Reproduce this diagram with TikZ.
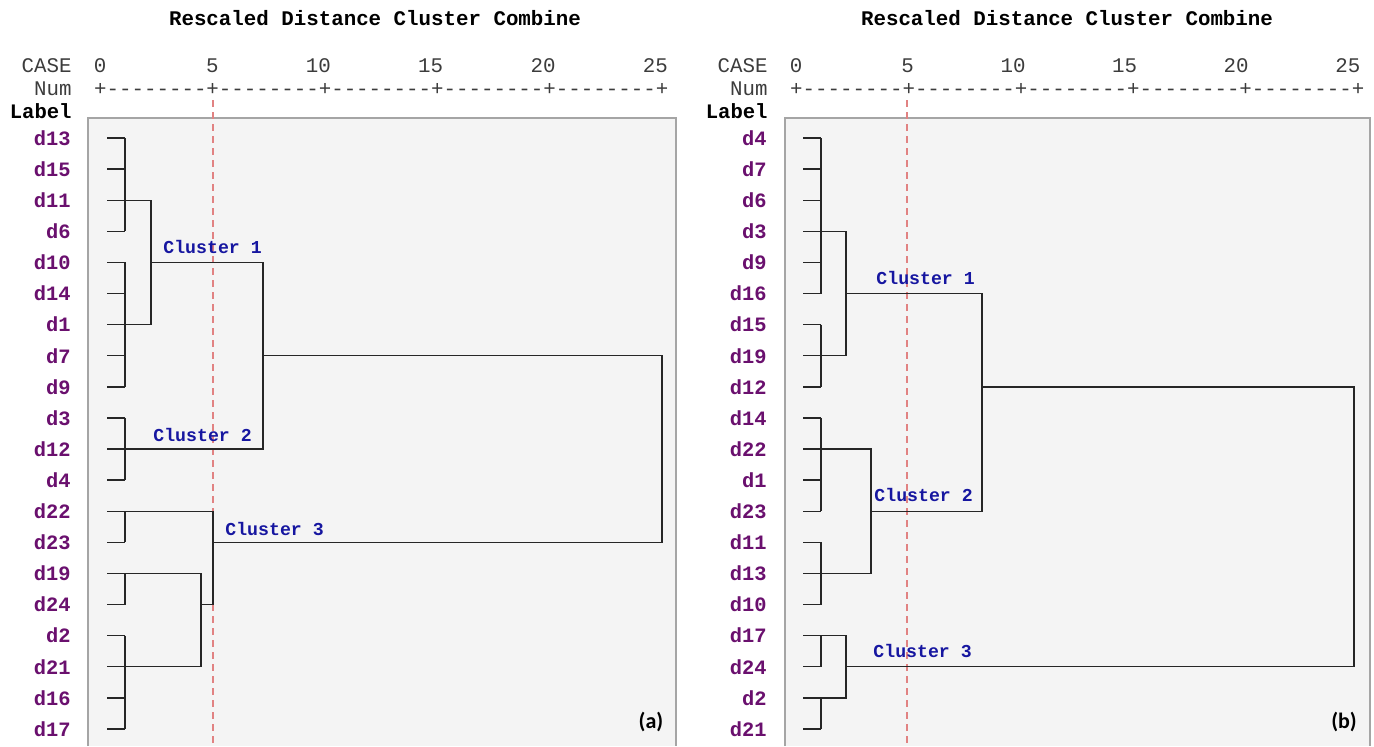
\documentclass[tikz,border=0pt]{standalone}
\usepackage{fontspec}
\newfontfamily\monof[Ligatures=TeXOff]{Liberation Mono}
\newfontfamily\panelf{Carlito}
\definecolor{leafc}{RGB}{106,16,110}
\definecolor{clusc}{RGB}{22,22,160}
\definecolor{axisc}{RGB}{60,60,60}
\definecolor{boxfill}{RGB}{244,244,244}
\definecolor{boxline}{RGB}{165,165,165}
\definecolor{cutc}{RGB}{225,130,130}
\newcommand\R[1]{(138+31.1*#1)}
\tikzset{
  title/.style={font=\monof\bfseries\fontsize{10.4}{12}\selectfont, inner sep=0pt},
  axis/.style={font=\monof\fontsize{10.4}{12}\selectfont, text=axisc, inner sep=0pt},
  hdr/.style={font=\monof\bfseries\fontsize{10.3}{12}\selectfont, inner sep=0pt},
  leaf/.style={font=\monof\bfseries\fontsize{10.2}{12}\selectfont, text=leafc, inner sep=0pt, anchor=east},
  clus/.style={font=\monof\bfseries\fontsize{9.1}{11}\selectfont, text=clusc, inner sep=0pt, anchor=west},
  tag/.style={font=\panelf\bfseries\fontsize{11}{13}\selectfont, inner sep=0pt},
  tree/.style={draw=black!85, line width=0.7pt},
  cut/.style={draw=cutc, line width=0.55pt, dash pattern=on 3.5pt off 2.5pt},
  panel/.style={fill=boxfill},
  panelrim/.style={draw=boxline, line width=0.6pt}
}
\newcommand\header[5]{%
  \node[title] (#1title) at (#5,18) {Rescaled Distance Cluster Combine};
  \node[axis, anchor=east] (#1case) at (#4,66) {CASE};
  \node[axis, anchor=east] (#1num) at (#4,89) {Num};
  \node[hdr, anchor=east] (#1lab) at (#4,111) {Label};
  \foreach \c/\t [count=\k] in {0/0,9/5,17.5/10,26.5/15,35.5/20,44.5/25}
    \node[axis] (#1n\k) at ({#2+#3*\c},66) {\t};
  \node[axis, anchor=west] (#1rule) at ({#2-#3/2},89) {+--------+--------+--------+--------+--------+};
}
\begin{document}
\begin{tikzpicture}[x=0.5pt,y=-0.5pt]
\useasboundingbox (0,0) rectangle (1374,746);
% ---------------- panel (a)
\fill[panel] (88,118) rectangle (676,746);
\draw[panelrim] (88,746) -- (88,118) -- (676,118) -- (676,746);
\header{a}{100}{12.48}{72}{375}
\draw[cut] (213,100) -- (213,746);
\foreach \n [count=\i from 0] in {d13,d15,d11,d6,d10,d14,d1,d7,d9,d3,d12,d4,d22,d23,d19,d24,d2,d21,d16,d17}
  \node[leaf] (a-\n) at (71,{\R{\i}}) {\n};
\foreach \i in {0,...,19}
  \draw[tree] (107,{\R{\i}}) -- (125,{\R{\i}});
\foreach \p/\q in {0/3,4/8,9/11,12/13,14/15,16/19}
  \draw[tree] (125,{\R{\p}}) -- (125,{\R{\q}});
\draw[tree] (125,{\R{2}}) -- (151,{\R{2}}) -- (151,{\R{6}}) -- (125,{\R{6}});
\draw[tree] (151,{\R{4}}) -- (263,{\R{4}}) -- (263,{\R{10}}) -- (125,{\R{10}});
\draw[tree] (263,{\R{7}}) -- (662,{\R{7}}) -- (662,{\R{13}}) -- (213,{\R{13}});
\draw[tree] (125,{\R{12}}) -- (213,{\R{12}}) -- (213,{\R{15}}) -- (201,{\R{15}});
\draw[tree] (125,{\R{14}}) -- (201,{\R{14}}) -- (201,{\R{17}}) -- (125,{\R{17}});
\node[clus] (ac1) at (163,247) {Cluster 1};
\node[clus] (ac2) at (153,435) {Cluster 2};
\node[clus] (ac3) at (225,529) {Cluster 3};
\node[tag] (atag) at (651,722) {(a)};
% ---------------- panel (b)
\fill[panel] (785,118) rectangle (1370,746);
\draw[panelrim] (785,746) -- (785,118) -- (1370,118) -- (1370,746);
\header{b}{796}{12.4}{768}{1067}
\draw[cut] (907,100) -- (907,746);
\foreach \n [count=\i from 0] in {d4,d7,d6,d3,d9,d16,d15,d19,d12,d14,d22,d1,d23,d11,d13,d10,d17,d24,d2,d21}
  \node[leaf] (b-\n) at (767,{\R{\i}}) {\n};
\foreach \i in {0,...,19}
  \draw[tree] (803,{\R{\i}}) -- (821,{\R{\i}});
\foreach \p/\q in {0/5,6/8,9/12,13/15,16/17,18/19}
  \draw[tree] (821,{\R{\p}}) -- (821,{\R{\q}});
\draw[tree] (821,{\R{3}}) -- (846,{\R{3}}) -- (846,{\R{7}}) -- (821,{\R{7}});
\draw[tree] (846,{\R{5}}) -- (982,{\R{5}}) -- (982,{\R{12}}) -- (871,{\R{12}});
\draw[tree] (821,{\R{10}}) -- (871,{\R{10}}) -- (871,{\R{14}}) -- (821,{\R{14}});
\draw[tree] (982,{\R{8}}) -- (1354,{\R{8}}) -- (1354,{\R{17}}) -- (846,{\R{17}});
\draw[tree] (821,{\R{16}}) -- (846,{\R{16}}) -- (846,{\R{18}}) -- (821,{\R{18}});
\node[clus] (bc1) at (876,278) {Cluster 1};
\node[clus] (bc2) at (874,495) {Cluster 2};
\node[clus] (bc3) at (873,651) {Cluster 3};
\node[tag] (btag) at (1344,722) {(b)};
\end{tikzpicture}
\end{document}
